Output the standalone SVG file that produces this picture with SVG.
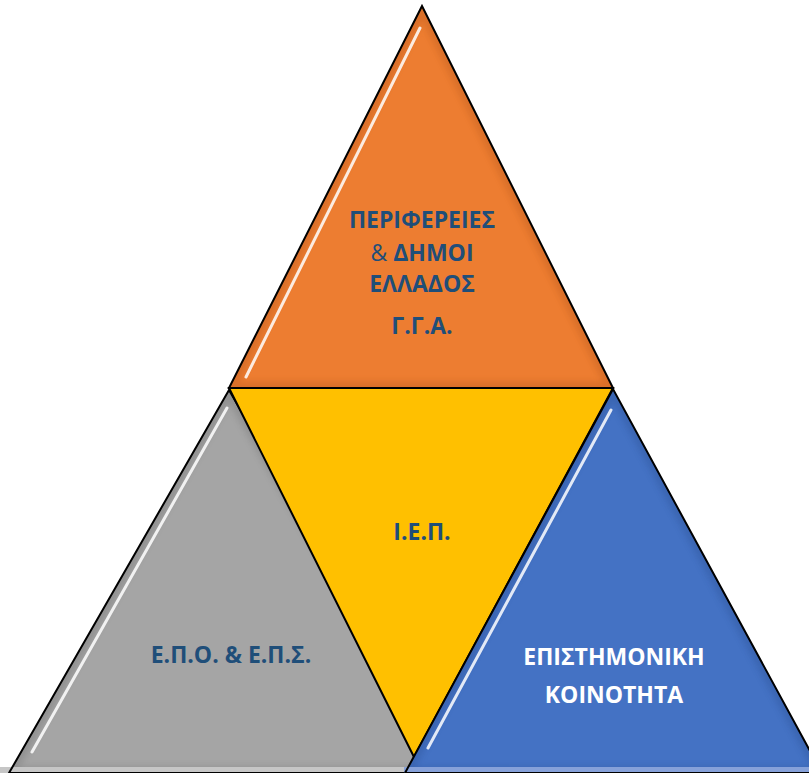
<svg xmlns="http://www.w3.org/2000/svg" width="809" height="773" viewBox="0 0 809 773">
  <style>
    .tri { stroke: #000; stroke-width: 2; stroke-linejoin: miter; }
    .bevel { fill: none; stroke-width: 12; opacity: 0.35; filter: url(#soft); }
    .gloss { fill: none; stroke: #fff; stroke-width: 3; stroke-linecap: round; opacity: 0.85; }
    .lbl { font-family: "Open Sans", "Liberation Sans", sans-serif; font-weight: bold; font-size: 23px; text-anchor: middle; fill: #1F4E79; }
    .w { fill: #fff; }
    .reg { font-weight: normal; }
  </style>
  <defs>
    <filter id="soft" x="-10%" y="-10%" width="120%" height="120%">
      <feGaussianBlur stdDeviation="3"/>
    </filter>
    <clipPath id="cGray"><polygon points="229,390 9,773 449,773"/></clipPath>
    <clipPath id="cOrange"><polygon points="422,6 229,388 613,388"/></clipPath>
    <clipPath id="cBlue"><polygon points="613,389 405,773 822,773"/></clipPath>
  </defs>
  <rect width="809" height="773" fill="#fff"/>

  <g id="gray-triangle">
    <polygon points="229,390 9,773 449,773" fill="#A5A5A5"/>
    <polygon class="bevel" clip-path="url(#cGray)" points="229,390 9,773 449,773" stroke="#6e6e6e"/>
    <line class="gloss" x1="227" y1="408" x2="32" y2="752"/>
    <rect x="0" y="767" width="450" height="6" fill="#c6c6c6"/>
    <polygon class="tri" points="229,390 9,773 449,773" fill="none"/>
  </g>

  <g id="orange-triangle">
    <polygon points="422,6 229,388 613,388" fill="#ED7D31"/>
    <polygon class="bevel" clip-path="url(#cOrange)" points="422,6 229,388 613,388" stroke="#b5561a"/>
    <line class="gloss" x1="420" y1="28" x2="246" y2="377"/>
    <polygon class="tri" points="422,6 229,388 613,388" fill="none"/>
  </g>

  <g id="yellow-triangle">
    <polygon class="tri" points="229,388 613,388 414,757" fill="#FFC000"/>
  </g>

  <g id="blue-triangle">
    <polygon points="613,389 405,773 822,773" fill="#4472C4"/>
    <polygon class="bevel" clip-path="url(#cBlue)" points="613,389 405,773 822,773" stroke="#2c4f91"/>
    <line class="gloss" x1="611" y1="410" x2="428" y2="748"/>
    <rect x="404" y="767" width="405" height="6" fill="#86a1d9"/>
    <polygon class="tri" points="613,389 405,773 822,773" fill="none"/>
  </g>

  <g id="labels">
    <text class="lbl" x="422" y="228">ΠΕΡΙΦΕΡΕΙΕΣ</text>
    <text class="lbl" x="422" y="261"><tspan class="reg">&amp;</tspan> ΔΗΜΟΙ</text>
    <text class="lbl" x="422" y="292">ΕΛΛΑΔΟΣ</text>
    <text class="lbl" x="422" y="334">Γ.Γ.Α.</text>
    <text class="lbl" x="422" y="540">Ι.Ε.Π.</text>
    <text class="lbl" x="231" y="663">Ε.Π.Ο. &amp; Ε.Π.Σ.</text>
    <text class="lbl w" x="614" y="665">ΕΠΙΣΤΗΜΟΝΙΚΗ</text>
    <text class="lbl w" x="614" y="703">ΚΟΙΝΟΤΗΤΑ</text>
  </g>
</svg>
